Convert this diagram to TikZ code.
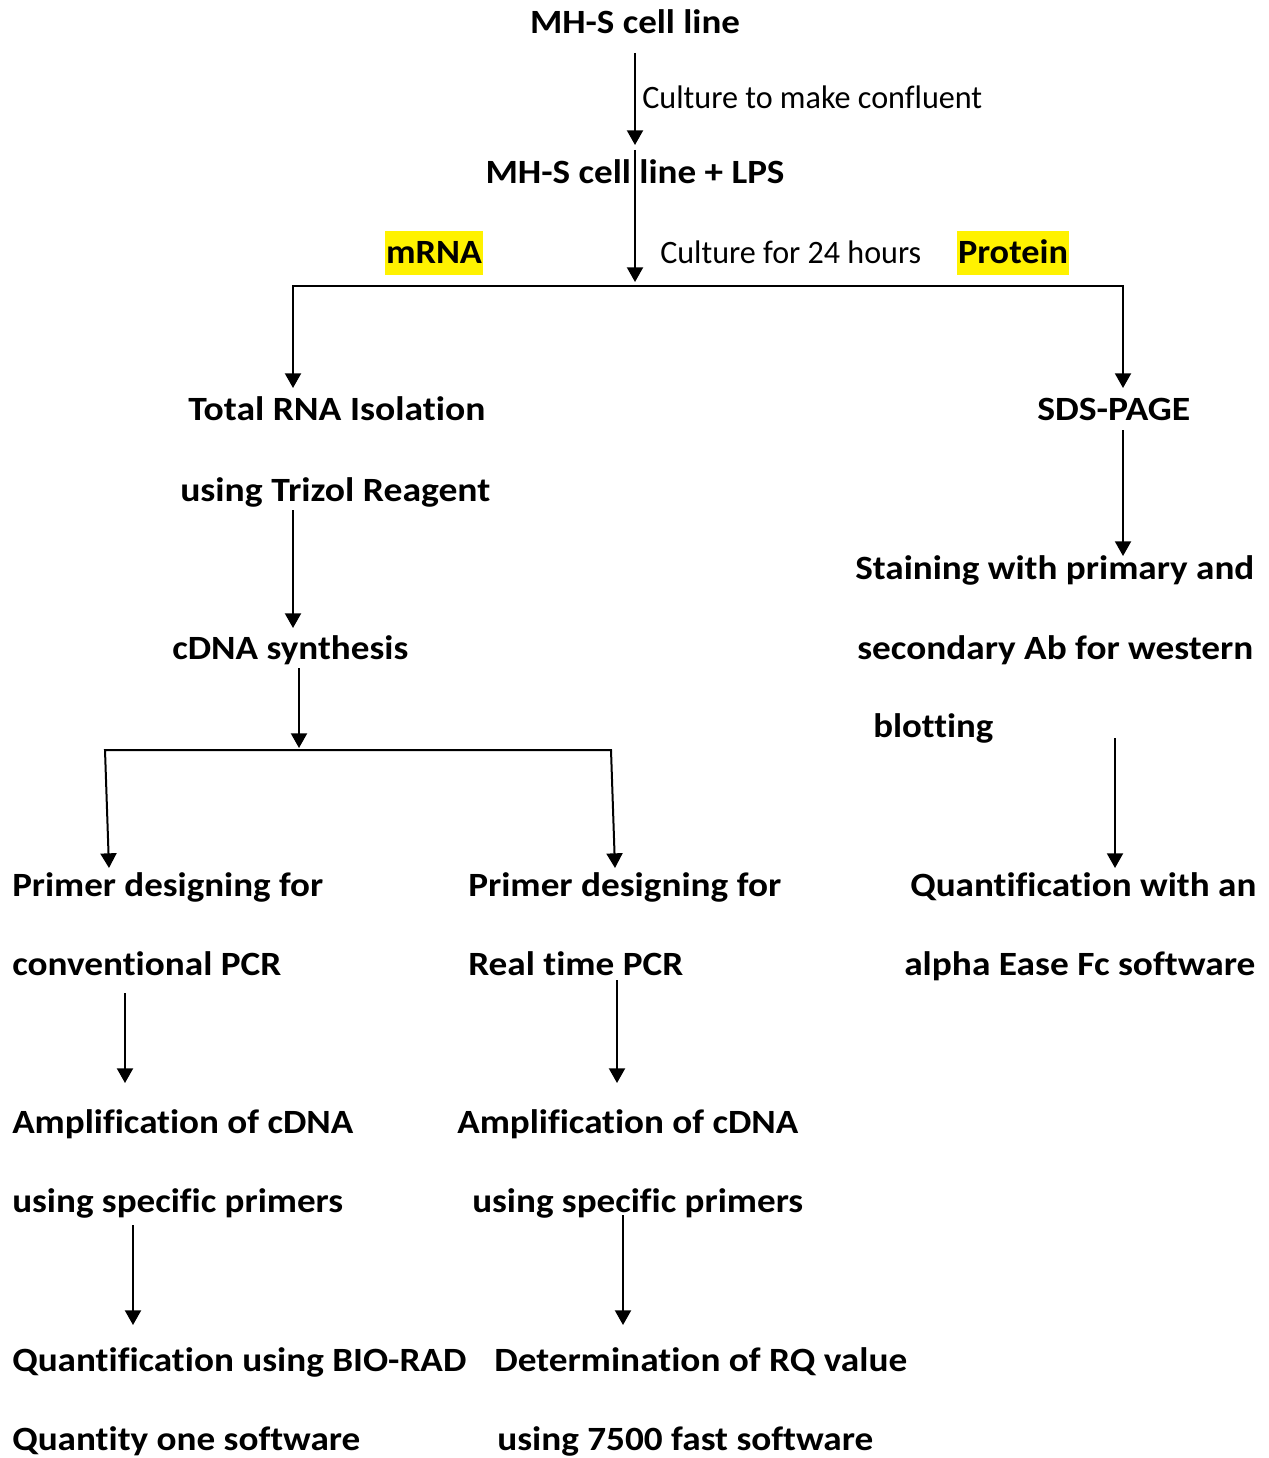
\documentclass[tikz,border=0pt]{standalone}
\usepackage{fontspec}
\setmainfont{Carlito}[RawFeature={-liga;-dlig;-clig}]
\usepackage{graphicx}
\usetikzlibrary{arrows.meta}
\newdimen\pxu \pxu=0.75pt
\newcommand{\fitw}[2]{\resizebox{#1\pxu}{\height}{#2}}
\begin{document}
\begin{tikzpicture}[x=0.75pt,y=-0.75pt,
  txt/.style={inner sep=0pt,font=\fontsize{25.5}{30}\selectfont\bfseries},
  lbl/.style={inner sep=0pt,font=\fontsize{24.5}{30}\selectfont},
  lft/.style={anchor=base west},
  ctr/.style={anchor=base},
  hl/.style={fill=yellow,inner xsep=1pt,inner ysep=0pt,text height=25pt,text depth=8pt,anchor=base,font=\fontsize{25.5}{30}\selectfont\bfseries},
  arr/.style={line width=1.5pt,-{Triangle[width=12pt,length=11pt]}},
  brk/.style={line width=1.5pt,{Triangle[width=12pt,length=11pt]}-{Triangle[width=12pt,length=11pt]}}]
\useasboundingbox (0,0) rectangle (1269,1458);
% top
\node[txt,ctr] (mhs) at (635,34) {\fitw{210}{MH-S cell line}};
\node[lbl,lft] (cul1) at (642,109) {\fitw{340}{Culture to make confluent}};
\node[txt,ctr] (lps) at (635,184) {\fitw{299}{MH-S cell line + LPS}};
\node[hl] (mrna) at (434,264) {\fitw{96}{mRNA}};
\node[lbl,lft] (cul2) at (660,264) {\fitw{261}{Culture for 24 hours}};
\node[hl] (prot) at (1013,264) {\fitw{110}{Protein}};
% left branch
\node[txt,lft] (rna1) at (188,421) {\fitw{297}{Total RNA Isolation}};
\node[txt,lft] (rna2) at (180,501) {\fitw{310}{using Trizol Reagent}};
\node[txt,lft] (cdna) at (172,659) {\fitw{236}{cDNA synthesis}};
\node[txt,lft] (pc1) at (12,896) {\fitw{311}{Primer designing for}};
\node[txt,lft] (pc2) at (12,975) {\fitw{269}{conventional PCR}};
\node[txt,lft] (pr1) at (468,896) {\fitw{313}{Primer designing for}};
\node[txt,lft] (pr2) at (468,975) {\fitw{215}{Real time PCR}};
\node[txt,lft] (ac1) at (12,1133) {\fitw{341}{Amplification of cDNA}};
\node[txt,lft] (ac2) at (12,1212) {\fitw{331}{using specific primers}};
\node[txt,lft] (ar1) at (457,1133) {\fitw{341}{Amplification of cDNA}};
\node[txt,lft] (ar2) at (472,1212) {\fitw{331}{using specific primers}};
\node[txt,lft] (qc1) at (12,1371) {\fitw{454}{Quantification using BIO-RAD}};
\node[txt,lft] (qc2) at (12,1450) {\fitw{348}{Quantity one software}};
\node[txt,lft] (qr1) at (494,1371) {\fitw{413}{Determination of RQ value}};
\node[txt,lft] (qr2) at (497,1450) {\fitw{376}{using 7500 fast software}};
% right branch
\node[txt,lft] (sds) at (1037,421) {\fitw{153}{SDS-PAGE}};
\node[txt,lft] (st1) at (855,579) {\fitw{399}{Staining with primary and}};
\node[txt,lft] (st2) at (857,659) {\fitw{396}{secondary Ab for western}};
\node[txt,lft] (st3) at (873,737) {\fitw{120}{blotting}};
\node[txt,lft] (qa1) at (910,896) {\fitw{346}{Quantification with an}};
\node[txt,lft] (qa2) at (904,975) {\fitw{351}{alpha Ease Fc software}};
% connector points
\coordinate (a1s) at (635,53);  \coordinate (a1e) at (635,145);
\coordinate (a2s) at (635,150); \coordinate (a2e) at (635,282);
\coordinate (jl) at (293,286);  \coordinate (jr) at (1123,286);
\coordinate (tl) at (293,388);  \coordinate (tr) at (1123,388);
\coordinate (a4s) at (293,510); \coordinate (a4e) at (293,628);
\coordinate (a5s) at (299,668); \coordinate (a5e) at (299,748);
\coordinate (kl) at (105,750);  \coordinate (kr) at (611,750);
\coordinate (ul) at (109,868);  \coordinate (ur) at (615,868);
\coordinate (a7s) at (125,993); \coordinate (a7e) at (125,1083);
\coordinate (a8s) at (617,980); \coordinate (a8e) at (617,1083);
\coordinate (a9s) at (133,1225); \coordinate (a9e) at (133,1325);
\coordinate (a10s) at (623,1215); \coordinate (a10e) at (623,1325);
\coordinate (a11s) at (1123,430); \coordinate (a11e) at (1123,556);
\coordinate (a12s) at (1115,738); \coordinate (a12e) at (1115,868);
% connectors
\draw[arr] (a1s) -- (a1e);
\draw[arr] (a2s) -- (a2e);
\draw[brk] (tl) -- (jl) -- (jr) -- (tr);
\draw[arr] (a4s) -- (a4e);
\draw[arr] (a5s) -- (a5e);
\draw[brk] (ul) -- (kl) -- (kr) -- (ur);
\draw[arr] (a7s) -- (a7e);
\draw[arr] (a8s) -- (a8e);
\draw[arr] (a9s) -- (a9e);
\draw[arr] (a10s) -- (a10e);
\draw[arr] (a11s) -- (a11e);
\draw[arr] (a12s) -- (a12e);
\end{tikzpicture}
\end{document}
